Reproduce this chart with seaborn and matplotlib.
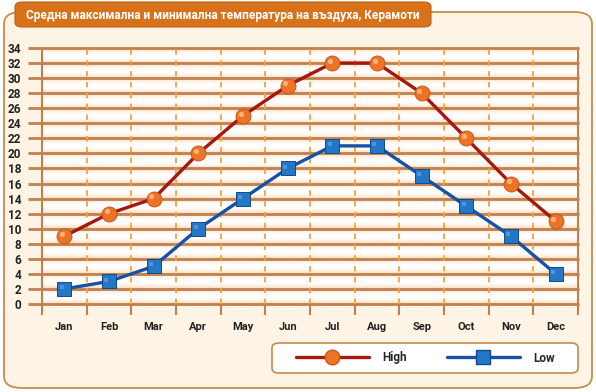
"""Average high/low air temperature, Keramoti - recreated chart."""

import matplotlib

matplotlib.use("Agg")
import matplotlib.pyplot as plt
import numpy as np
import pandas as pd
import seaborn as sns
from matplotlib.patches import FancyBboxPatch
from matplotlib.lines import Line2D

months = ["Jan", "Feb", "Mar", "Apr", "May", "Jun",
          "Jul", "Aug", "Sep", "Oct", "Nov", "Dec"]
high = [9, 12, 14, 20, 25, 29, 32, 32, 28, 22, 16, 11]
low = [2, 3, 5, 10, 14, 18, 21, 21, 17, 13, 9, 4]
y_ticks = list(range(0, 36, 2))
title = "Средна максимална и минимална температура на въздуха, Керамоти"

BROWN = "#c08050"
HIGH_LINE = "#a5170f"
HIGH_MARK = "#ec7424"
LOW_LINE = "#1552a6"
LOW_MARK = "#2377c4"

df = pd.DataFrame({
    "pos": list(range(len(months))) * 2,
    "temp": high + low,
    "series": ["High"] * len(months) + ["Low"] * len(months),
})

sns.set_theme(style="white")
plt.rcParams["font.family"] = ["Roboto", "DejaVu Sans"]

fig = plt.figure(figsize=(5.96, 3.92), dpi=100)
fig.patch.set_facecolor("white")

# outer panel, title box and legend box (behind the axes)
panel = FancyBboxPatch((4 / 596, 4 / 392), 588 / 596, 376 / 392,
                       boxstyle="round,pad=0,rounding_size=0.03",
                       transform=fig.transFigure, facecolor="#fdf4e6",
                       edgecolor="#c98a4a", lw=1.3, zorder=-3)
fig.patches.append(panel)
tbox = FancyBboxPatch((15 / 596, 365 / 392), 416 / 596, 25 / 392,
                      boxstyle="round,pad=0,rounding_size=0.012",
                      transform=fig.transFigure, facecolor="#d8721a",
                      edgecolor="#c2600f", lw=0.8, zorder=-2)
fig.patches.append(tbox)
lbox = FancyBboxPatch((272 / 596, 19 / 392), 306 / 596, 30 / 392,
                      boxstyle="round,pad=0,rounding_size=0.012",
                      transform=fig.transFigure, facecolor="white",
                      edgecolor="#c98a4a", lw=1.2, zorder=-2)
fig.patches.append(lbox)
fig.text(223 / 596, 377 / 392, title, color="white", fontsize=8.6,
         fontweight="bold", ha="center", va="center", zorder=2)

ax = fig.add_axes([42 / 596, 88 / 392, 536 / 596, 256 / 392])
ax.set_facecolor("white")

# banded background between grid lines
rows = 34 * 20
yy = np.linspace(0, 34, rows)
t = (yy % 2) / 2
w = np.abs(2 * t - 1) ** 2
c_edge = np.array([251, 214, 176]) / 255
img = (1 - w)[:, None] * np.ones(3) + w[:, None] * c_edge
ax.imshow(img[:, None, :], extent=(-0.5, 11.5, 0, 34), origin="lower",
          aspect="auto", zorder=0)

for y in y_ticks:
    ax.axhline(y, color=BROWN, lw=2, zorder=1, clip_on=False)
for x in np.arange(0.5, 11, 1):
    ax.axvline(x, color="#f7a236", lw=1.3, ls=(0, (3, 3)), zorder=1)

sns.lineplot(data=df, x="pos", y="temp", hue="series",
             palette={"High": HIGH_LINE, "Low": LOW_LINE},
             lw=2.4, legend=False, ax=ax, zorder=3)
hi = df[df.series == "High"]
lo = df[df.series == "Low"]
sns.scatterplot(data=hi, x="pos", y="temp", marker="o", s=115,
                color=HIGH_MARK, edgecolor="#c8561a", linewidth=0.7,
                legend=False, ax=ax, zorder=4)
sns.scatterplot(data=lo, x="pos", y="temp", marker="s", s=100,
                color=LOW_MARK, edgecolor="#0f4a90", linewidth=0.7,
                legend=False, ax=ax, zorder=4)
# small highlights for the shiny look
ax.scatter(hi["pos"] - 0.05, hi["temp"] + 0.3, s=14, color="#f9b27a",
           linewidths=0, zorder=5)
ax.scatter(lo["pos"] - 0.06, lo["temp"] + 0.25, s=10, color="#4c95dc",
           linewidths=0, marker="s", zorder=5)

ax.set_xlim(-0.5, 11.5)
ax.set_ylim(0, 34)
ax.set_xticks(range(len(months)))
ax.set_xticklabels(months)
ax.set_xticks(np.arange(-0.5, 12, 1), minor=True)
ax.set_yticks(y_ticks)
ax.set_xlabel("")
ax.set_ylabel("")
ax.tick_params(axis="x", which="major", length=0, pad=13, labelsize=8,
               labelcolor="#222222")
ax.tick_params(axis="x", which="minor", length=8, width=1.5, color=BROWN,
               direction="out", bottom=True)
ax.tick_params(axis="y", length=10, width=2, color=BROWN, direction="out",
               left=True, pad=5, labelsize=8.5, labelcolor="#222222")
for lab in ax.get_xticklabels() + ax.get_yticklabels():
    lab.set_fontweight("bold")
for side in ["top", "bottom"]:
    ax.spines[side].set_visible(False)
for side in ["left", "right"]:
    ax.spines[side].set_color(BROWN)
    ax.spines[side].set_linewidth(1.5)

# legend
handles = [
    Line2D([], [], color=HIGH_LINE, lw=2.4, marker="o", markersize=10.5,
           markerfacecolor=HIGH_MARK, markeredgecolor="#c8561a"),
    Line2D([], [], color=LOW_LINE, lw=2.4, marker="s", markersize=10,
           markerfacecolor=LOW_MARK, markeredgecolor="#0f4a90"),
]
leg = fig.legend(handles, ["High", "Low"], ncol=2,
                 bbox_to_anchor=(425 / 596, 34 / 392), loc="center",
                 frameon=False, handlelength=6.2, handletextpad=1.1,
                 columnspacing=3.4, fontsize=8.5, borderaxespad=0)
for txt in leg.get_texts():
    txt.set_fontweight("bold")

fig.savefig("out.png", dpi=100)
